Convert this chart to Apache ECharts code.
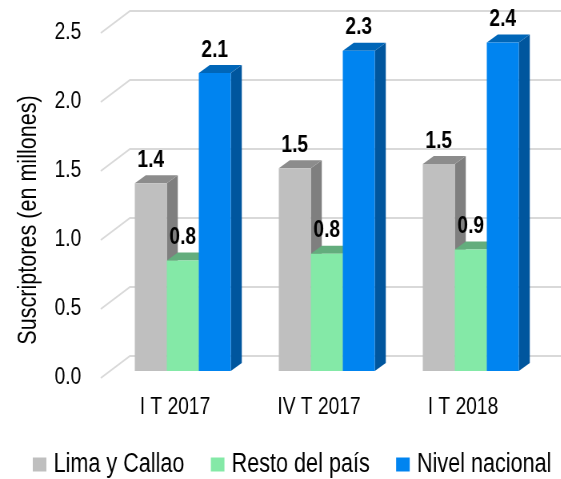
<!DOCTYPE html>
<html>
<head>
<meta charset="utf-8">
<style>
html,body{margin:0;padding:0;background:#fff;overflow:hidden;width:561px;height:479px}
/* source text is a narrow Arial, no such font here, so squeeze the whole chart */
#main{width:702px;height:479px;transform:scaleX(0.8);transform-origin:0 0}
</style>
<script src="https://cdn.jsdelivr.net/npm/echarts@6/dist/echarts.min.js"></script>
</head>
<body>
<div id="main"></div>
<script>
var categories = ['I T 2017', 'IV T 2017', 'I T 2018'];
var limaCallao = [1.36, 1.47, 1.50];
var restoPais = [0.80, 0.85, 0.88];
var nivelNacional = [2.16, 2.32, 2.38];
// printed labels are rounded differently from the drawn heights in the source
var limaLabels = ['1.4', '1.5', '1.5'];
var restoLabels = ['0.8', '0.8', '0.9'];
var nivelLabels = ['2.1', '2.3', '2.4'];
var yTicks = [0, 0.5, 1, 1.5, 2, 2.5];

var FONT = '"Liberation Sans", Arial, sans-serif';

// fake 3D bar: front face, top and right side
function barSeries(name, values, labels, idx, front, top, side) {
  return {
    name: name,
    type: 'custom',
    coordinateSystem: 'cartesian2d',
    itemStyle: { color: front },
    data: values.map(function (v, i) { return [i, v]; }),
    encode: { x: 0, y: 1 },
    renderItem: function (params, api) {
      var w = api.size([1, 0])[0] / 4.5;
      var p = api.coord([api.value(0), api.value(1)]);
      var b = api.coord([api.value(0), 0]);
      var x = p[0] - w * 1.5 + idx * w;
      var dx = 13.75, dy = 8;
      return {
        type: 'group',
        children: [
          { type: 'polygon', shape: { points: [[x + w, p[1]], [x + w + dx, p[1] - dy], [x + w + dx, b[1] - dy], [x + w, b[1]]] }, style: { fill: side } },
          { type: 'polygon', shape: { points: [[x, p[1]], [x + dx, p[1] - dy], [x + w + dx, p[1] - dy], [x + w, p[1]]] }, style: { fill: top } },
          { type: 'rect', shape: { x: x, y: p[1], width: w, height: b[1] - p[1] }, style: { fill: front } },
          { type: 'text', z2: 100, style: { x: x + w / 2, y: p[1] - 23, text: labels[params.dataIndex], fill: '#000', font: 'bold 24px ' + FONT, align: 'center', verticalAlign: 'middle' } }
        ]
      };
    }
  };
}

// back wall lines and their diagonal ends
var wallSeries = {
  type: 'custom',
  silent: true,
  z: 1,
  data: yTicks.map(function (v) { return [0, v]; }),
  encode: { x: 0, y: 1 },
  renderItem: function (params, api) {
    var y = api.coord([0, api.value(1)])[1];
    return {
      type: 'polyline',
      shape: { points: [[126, y + 7], [162.5, y - 15], [702, y - 15]] },
      style: { stroke: '#d9d9d9', lineWidth: 2, fill: 'none' }
    };
  }
};

var chart = echarts.init(document.getElementById('main'));
chart.setOption({
  animation: false,
  grid: { left: 138.5, right: 23.5, top: 26, bottom: 108 },
  legend: {
    left: 41, top: 451, padding: 0,
    itemWidth: 17, itemHeight: 14, itemGap: 33,
    icon: 'rect',
    textStyle: { fontFamily: FONT, fontSize: 27, color: '#000', padding: [0, 0, 0, 4] },
    data: ['Lima y Callao', 'Resto del país', 'Nivel nacional']
  },
  // y title is condensed along its own direction, so undo the page squeeze across it
  graphic: [{
    type: 'text',
    x: 36, y: 220,
    rotation: Math.PI / 2,
    scaleX: 0.83, scaleY: 1.25,
    style: { text: 'Suscriptores (en millones)', fill: '#000', font: '26px ' + FONT, align: 'center', verticalAlign: 'middle' }
  }],
  xAxis: {
    type: 'category',
    data: categories,
    axisLine: { show: false },
    axisTick: { show: false },
    axisLabel: { color: '#000', fontFamily: FONT, fontSize: 24, margin: 24, padding: [0, 19.5, 0, 0] }
  },
  yAxis: {
    type: 'value',
    min: 0, max: 2.5, interval: 0.5,
    axisLine: { show: false },
    axisTick: { show: false },
    splitLine: { show: false },
    axisLabel: {
      color: '#000', fontFamily: FONT, fontSize: 24, margin: 37,
      // source labels sit about 5px under the bar-plane level
      verticalAlign: 'top', lineHeight: 12,
      formatter: function (v) { return v.toFixed(1); }
    }
  },
  series: [
    wallSeries,
    barSeries('Lima y Callao', limaCallao, limaLabels, 0, '#bfbfbf', '#8c8c8c', '#7f7f7f'),
    barSeries('Resto del país', restoPais, restoLabels, 1, '#84e9a7', '#63ad7d', '#63ad7d'),
    barSeries('Nivel nacional', nivelNacional, nivelLabels, 2, '#0084f0', '#0066b8', '#00569e')
  ]
});
</script>
</body>
</html>
